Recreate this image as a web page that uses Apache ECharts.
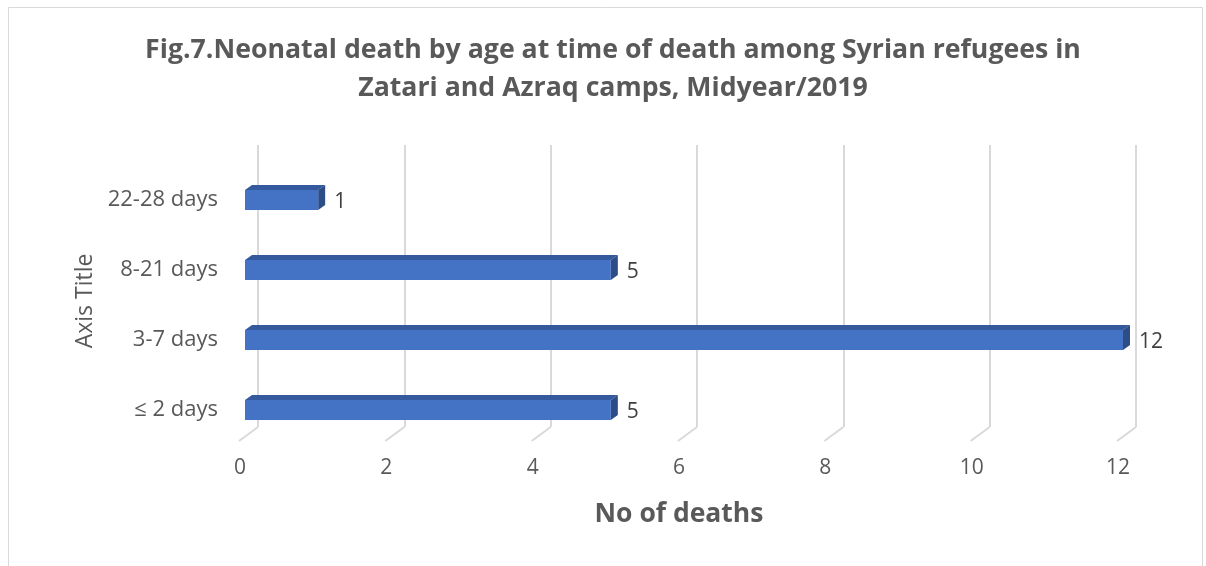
<!DOCTYPE html>
<html>
<head>
<meta charset="utf-8">
<title>Fig.7 Neonatal death by age</title>
<script src="https://cdn.jsdelivr.net/npm/echarts@6/dist/echarts.min.js"></script>
<style>
  html, body { margin: 0; padding: 0; background: #fff; }
  #chart { width: 1206px; height: 566px; }
</style>
</head>
<body>
<div id="chart"></div>
<script>
// data
const categories = ['≤ 2 days', '3-7 days', '8-21 days', '22-28 days'];
const deaths = [5, 12, 5, 1];
const ticks = [0, 2, 4, 6, 8, 10, 12];

const titleText = 'Fig.7.Neonatal death by age at time of death among Syrian refugees in\nZatari and Azraq camps, Midyear/2019';

let myChart = echarts.init(document.getElementById('chart'));

const FONT = '"Open Sans", sans-serif';
const front = '#4472C4';
const topFace = '#34599C';
const sideFace = '#2D4D86';

myChart.setOption({
  animation: false,
  title: {
    text: titleText,
    left: 608,
    top: 26,
    textAlign: 'center',
    textStyle: {
      fontFamily: FONT,
      fontWeight: 'bold',
      fontSize: 26.7,
      lineHeight: 38,
      color: '#595959'
    }
  },
  graphic: [{
    type: 'rect',
    shape: { x: 8.5, y: 7.5, width: 1194, height: 570 },
    style: { fill: null, stroke: '#D9D9D9', lineWidth: 1 },
    silent: true
  }],
  grid: [
    // bars (front plane)
    { left: 245, width: 878, top: 165, height: 280 },
    // back wall gridlines
    { left: 258, width: 878, top: 145, height: 282 },
    // axis labels
    { left: 240, width: 878, top: 145, height: 296 }
  ],
  xAxis: [
    { gridIndex: 0, type: 'value', min: 0, max: 12, interval: 2, show: false },
    {
      gridIndex: 1, type: 'value', min: 0, max: 12, interval: 2,
      axisLine: { show: false }, axisTick: { show: false }, axisLabel: { show: false },
      splitLine: { show: true, lineStyle: { color: '#D9D9D9', width: 2 } }
    },
    {
      gridIndex: 2, type: 'value', min: 0, max: 12, interval: 2,
      axisLine: { show: false }, axisTick: { show: false }, splitLine: { show: false },
      axisLabel: { margin: 17, fontFamily: FONT, fontSize: 21, color: '#595959' },
      name: 'No of deaths',
      nameLocation: 'middle',
      nameGap: 60,
      nameTextStyle: { fontFamily: FONT, fontWeight: 'bold', fontSize: 26.5, color: '#595959' }
    }
  ],
  yAxis: [
    {
      gridIndex: 0, type: 'category', data: categories,
      axisLine: { show: false }, axisTick: { show: false }, splitLine: { show: false },
      axisLabel: { margin: 27, fontFamily: FONT, fontSize: 22, color: '#595959' },
      name: 'Axis Title',
      nameLocation: 'middle',
      nameRotate: 90,
      nameGap: 147,
      nameTextStyle: { fontFamily: FONT, fontSize: 23, color: '#595959', padding: [0, 0, 0, 8] }
    },
    { gridIndex: 1, type: 'value', min: 0, max: 1, show: false },
    { gridIndex: 2, type: 'value', min: 0, max: 1, show: false }
  ],
  series: [
    {
      // floor slants under each back gridline
      type: 'custom',
      xAxisIndex: 1,
      yAxisIndex: 1,
      silent: true,
      data: ticks.map(v => [v, 0]),
      renderItem: function (params, api) {
        const p = api.coord([api.value(0), 0]);
        return {
          type: 'line',
          shape: { x1: p[0], y1: p[1], x2: p[0] - 19, y2: p[1] + 14 },
          style: { stroke: '#D9D9D9', lineWidth: 2 }
        };
      }
    },
    {
      type: 'custom',
      xAxisIndex: 0,
      yAxisIndex: 0,
      data: deaths.map((v, i) => [v, i]),
      renderItem: function (params, api) {
        const start = api.coord([0, api.value(1)]);
        const end = api.coord([api.value(0), api.value(1)]);
        const h = 20, dx = 7, dy = 5;
        const x0 = start[0], x1 = end[0], y0 = start[1] - h / 2;
        return {
          type: 'group',
          children: [
            {
              type: 'polygon',
              shape: { points: [[x0, y0], [x0 + dx, y0 - dy], [x1 + dx, y0 - dy], [x1, y0]] },
              style: { fill: topFace }
            },
            {
              type: 'polygon',
              shape: { points: [[x1, y0], [x1 + dx, y0 - dy], [x1 + dx, y0 + h - dy], [x1, y0 + h]] },
              style: { fill: sideFace }
            },
            {
              type: 'rect',
              shape: { x: x0, y: y0, width: x1 - x0, height: h },
              style: { fill: front }
            },
            {
              type: 'text',
              x: x1 + dx + 9,
              y: start[1] + 2,
              style: {
                text: String(api.value(0)),
                fontFamily: FONT,
                fontSize: 21,
                fill: '#404040',
                verticalAlign: 'middle',
                align: 'left'
              }
            }
          ]
        };
      }
    }
  ]
});

window.onresize = function () {
  myChart.resize();
};
</script>
</body>
</html>
